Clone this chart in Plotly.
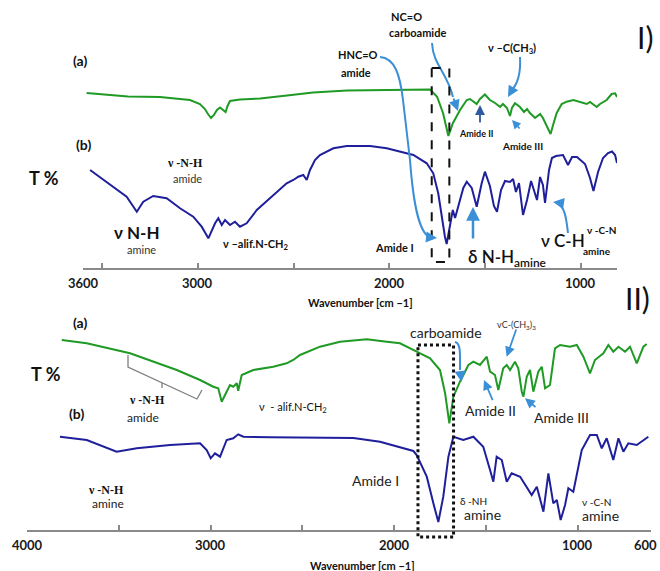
import re
import plotly.graph_objects as go

# ---------------- data (wavenumber in cm-1, transmittance in arbitrary offset units) -------------
# Panel I, spectrum (a)
wn_I_a = [3581, 3459, 3365, 3198, 3041, 2989, 2963, 2947, 2931, 2916, 2900, 2884, 2869, 2855, 2845,
          2832, 2780, 2675, 2534, 2398, 2221, 1959, 1787, 1750, 1719, 1691, 1667, 1630, 1595, 1578,
          1543, 1526, 1500, 1474, 1447, 1421, 1406, 1385, 1369, 1359, 1343, 1317, 1296, 1280, 1265,
          1238, 1212, 1197, 1170, 1157, 1144, 1125, 1099, 1073, 1038, 1003, 968, 951, 916, 899, 864,
          838, 820, 810]
T_I_a = [175, 173, 171.5, 171, 168, 164, 159, 154, 150, 153, 158, 160.5, 158, 156, 162,
         167, 168.5, 169.5, 172.5, 175.5, 177.5, 178, 178.5, 171.3, 155, 132, 145, 158, 168, 169,
         164, 169, 173.5, 168, 165, 161, 164, 160, 152, 160, 164.7, 161, 156, 159, 155,
         150, 154, 150, 138, 134, 143, 155, 164, 166.3, 168, 166, 164, 166, 161, 164, 168,
         174, 174.7, 171]

# Panel I, spectrum (b)
wn_I_b = [3563, 3442, 3372, 3319, 3285, 3233, 3163, 3093, 3024, 2980, 2945, 2910, 2893, 2875, 2858,
          2832, 2806, 2780, 2745, 2692, 2623, 2571, 2536, 2501, 2475, 2449, 2431, 2414, 2388, 2362,
          2292, 2222, 2100, 2013, 1944, 1874, 1804, 1770, 1744, 1726, 1709, 1700, 1682, 1668, 1656,
          1639, 1613, 1595, 1569, 1543, 1517, 1500, 1474, 1453, 1437, 1416, 1395, 1369, 1353, 1338,
          1322, 1301, 1280, 1259, 1244, 1228, 1212, 1197, 1186, 1165, 1150, 1129, 1092, 1066, 1045,
          1019, 977, 951, 933, 909, 883, 857, 836, 820, 810]
T_I_b = [98, 81.3, 71.3, 56.3, 66.3, 72, 69.7, 59.7, 51.3, 41.3, 29.7, 44.7, 49.7, 43, 48,
         43, 46.3, 41.3, 44.7, 58, 69.7, 78, 84.7, 88, 91.3, 93, 88, 98, 108, 113,
         119.7, 122, 122, 119.7, 116.3, 113, 104.7, 94.7, 74.7, 51.3, 31.3, 24, 44.7, 58, 50,
         63, 80, 86.3, 80, 61.3, 84.7, 96.3, 82, 62, 56.3, 78, 87, 86, 89, 76,
         85, 53, 68, 87, 78, 68, 91, 83, 65, 98, 110, 112, 113, 103, 111,
         111, 104, 90, 77, 96, 110, 115, 116.5, 113, 105]

# Panel II, spectrum (a)
wn_II_a = [3812, 3676, 3440, 3313, 3185, 3058, 2986, 2959, 2940, 2922, 2895, 2877, 2858, 2850, 2831,
           2768, 2659, 2586, 2550, 2513, 2404, 2295, 2149, 2040, 1968, 1877, 1804, 1750, 1722, 1699,
           1677, 1641, 1595, 1568, 1532, 1495, 1477, 1450, 1432, 1405, 1386, 1368, 1341, 1323, 1304,
           1295, 1277, 1259, 1241, 1214, 1195, 1177, 1150, 1123, 1095, 1041, 1004, 968, 932, 905,
           859, 832, 805, 777, 741, 714, 677, 641, 623]
T_II_a = [190, 186.7, 176.7, 168.3, 160, 150, 143.3, 141.7, 128.3, 135, 145, 143.3, 146.7, 139.3, 155,
          160, 163.3, 166.7, 170, 175, 183.3, 188.3, 190.7, 188.3, 186.7, 178.3, 171.7, 160, 136.7, 106.7,
          133.3, 148.3, 165, 168.3, 165, 173.3, 158.3, 155, 140, 161.7, 165, 160, 168.3, 161.7, 138.3,
          133.3, 153.3, 160, 138.3, 158.3, 163.3, 141.7, 145, 181.7, 185, 183.3, 185, 173.3, 156.7, 170,
          176.7, 185, 178.3, 183.3, 178.3, 183.3, 166.7, 183.3, 186]

# Panel II, spectrum (b)
wn_II_b = [3822, 3676, 3513, 3403, 3222, 3058, 3022, 3000, 2977, 2949, 2913, 2877, 2850, 2822, 2677,
           2513, 2222, 2077, 1986, 1895, 1877, 1822, 1786, 1759, 1732, 1704, 1677, 1623, 1568, 1514,
           1477, 1459, 1441, 1413, 1386, 1359, 1313, 1277, 1250, 1222, 1186, 1159, 1132, 1113, 1092,
           1068, 1050, 1023, 977, 932, 895, 868, 841, 805, 777, 750, 723, 677, 614]
T_II_b = [93.3, 90, 78.3, 81.7, 85, 86.7, 80, 71.7, 76.7, 73.3, 90, 91.7, 95.7, 93.3, 92.7,
          92.5, 92, 88.3, 83.3, 79, 75, 53.3, 26.7, 8, 33.3, 73.3, 93.3, 90, 93.3, 83.3,
          60, 48.3, 73.3, 70, 48.3, 56.7, 53.3, 43.3, 35, 43.3, 18.3, 56.7, 26.7, 30, 10,
          25, 41.7, 38.3, 80, 95, 95, 81.7, 91.7, 70, 91.7, 78.3, 86.7, 85, 93.3]

# axis ticks
ticks_I = [3500, 3000, 2500, 2000, 1500, 1000]
labels_I = [3600, 3000, 2000, 1000]
ticks_II = [3500, 3000, 2500, 2000, 1500, 1000]
labels_II = [4000, 3000, 2000, 1000, 600]

# ---------------- styling / layout helpers ----------------
W, H = 660, 571
GREEN = "#1f9a24"
BLUE = "#1f1f9c"
ARROW = "#3b8fd6"
DARKARROW = "#2e5a9e"
AX = "#8a8a8a"
SANS = "Lato, 'Open Sans', sans-serif"
SERIF = "'Liberation Serif', 'DejaVu Serif', serif"


def px(x):
    return x / W


def py(y):
    return 1 - y / H


def path(s):
    def conv(m):
        return f"{px(float(m.group(1))):.5f},{py(float(m.group(2))):.5f}"
    return re.sub(r"(-?\d+\.?\d*),(-?\d+\.?\d*)", conv, s)


def txt(x, y, s, size, weight="normal", family=SANS, color="#111111", xanchor="center"):
    return dict(x=px(x), y=py(y), xref="paper", yref="paper", text=s, showarrow=False,
                xanchor=xanchor, yanchor="middle",
                font=dict(family=family, size=size, color=color, weight=weight))


def head(x, y, ax, ay, color=ARROW, width=2):
    return dict(x=px(x), y=py(y), xref="paper", yref="paper", ax=ax, ay=ay,
                axref="pixel", ayref="pixel", text="", showarrow=True,
                arrowhead=2, arrowsize=1.1, arrowwidth=width, arrowcolor=color, standoff=0)


fig = go.Figure()
fig.add_trace(go.Scatter(x=wn_I_a, y=T_I_a, mode="lines", line=dict(color=GREEN, width=2),
                         xaxis="x", yaxis="y", hoverinfo="skip"))
fig.add_trace(go.Scatter(x=wn_I_b, y=T_I_b, mode="lines", line=dict(color=BLUE, width=2),
                         xaxis="x", yaxis="y", hoverinfo="skip"))
fig.add_trace(go.Scatter(x=wn_II_a, y=T_II_a, mode="lines", line=dict(color=GREEN, width=2),
                         xaxis="x2", yaxis="y2", hoverinfo="skip"))
fig.add_trace(go.Scatter(x=wn_II_b, y=T_II_b, mode="lines", line=dict(color=BLUE, width=2),
                         xaxis="x2", yaxis="y2", hoverinfo="skip"))

tickfont = dict(family=SANS, size=13, color="#1a1a1a", weight="bold")
common_x = dict(showline=True, linecolor=AX, linewidth=1.5, ticks="inside", ticklen=5,
                tickwidth=1.5, tickcolor=AX, showgrid=False, zeroline=False,
                showticklabels=False, fixedrange=True)

fig.update_layout(
    width=W, height=H, margin=dict(l=0, r=0, t=0, b=0),
    paper_bgcolor="white", plot_bgcolor="white", showlegend=False,
    xaxis=dict(domain=[px(83), px(617)], range=[3600, 810], anchor="y",
               tickvals=ticks_I, **common_x),
    yaxis=dict(domain=[py(268), 1], range=[0, 268], visible=False, fixedrange=True),
    xaxis2=dict(domain=[px(27.3), px(650.9)], range=[4000, 600], anchor="y2",
                tickvals=ticks_II, **common_x),
    yaxis2=dict(domain=[py(530), py(300)], range=[0, 230], visible=False, fixedrange=True),
)

ann = []
# tick labels
for v in labels_I:
    ann.append(dict(x=v, xref="x", y=py(283), yref="paper", text=str(v), showarrow=False,
                    xanchor="center", yanchor="middle", font=tickfont))
for v in labels_II:
    if v == labels_II[-1]:
        ann.append(dict(x=px(659), xref="paper", y=py(545), yref="paper", text=str(v),
                        showarrow=False, xanchor="right", yanchor="middle", font=tickfont))
    else:
        ann.append(dict(x=v, xref="x2", y=py(545), yref="paper", text=str(v), showarrow=False,
                        xanchor="center", yanchor="middle", font=tickfont))

# ---- Panel I texts
ann += [
    txt(80, 61, "(a)", 14, "bold"),
    txt(83, 144, "(b)", 14, "bold"),
    txt(44, 178, "T %", 18, "bold"),
    txt(185, 163, "ν -N-H", 12, "bold", SERIF),
    txt(187, 178, "amide", 11, "normal", color="#333333"),
    txt(137, 232, "ν N-H", 17, "bold"),
    txt(141, 249, "amine", 11, "normal", color="#333333"),
    txt(256, 244, "ν –alif.N-CH<sub>2</sub>", 11, "bold"),
    txt(394, 248, "Amide I", 11, "bold"),
    txt(466, 258, "δ N-H<sub>amine</sub>", 17, 600, xanchor="left"),
    txt(563, 240, "ν C-H", 17, 600),
    txt(601, 230, "ν -C-N", 10, "bold"),
    txt(597, 251, "amine", 10, "bold"),
    txt(358, 55, "HNC=O", 11, "bold"),
    txt(356, 72, "amide", 11, "bold"),
    txt(406, 17, "NC=O", 11, "bold"),
    txt(417, 32, "carboamide", 11, "bold"),
    txt(512, 48, "ν –C(CH<sub>3</sub>)", 11, "bold"),
    txt(476, 133, "Amide II", 9, "bold"),
    txt(522, 146, "Amide III", 10, "bold"),
    txt(655, 37, "I)", 30, "normal", xanchor="right"),
    txt(360, 302, "Wavenumber [cm −1]", 11, "bold"),
]
# ---- Panel II texts
ann += [
    txt(80, 322, "(a)", 14, "bold"),
    txt(46, 374, "T %", 18, "bold"),
    txt(76, 413, "(b)", 14, "bold"),
    txt(147, 400, "ν -N-H", 12, "bold", SERIF),
    txt(143, 417, "amide", 12, "normal", color="#222222"),
    txt(293, 407, "ν  - alif.N-CH<sub>2</sub>", 11, "normal"),
    txt(446, 332, "carboamide", 14, "normal", color="#222222"),
    txt(516, 325, "vC-(CH<sub>3</sub>)<sub>3</sub>", 9, "normal", color="#333333"),
    txt(490, 410, "Amide II", 14, "normal", color="#222222"),
    txt(561, 417, "Amide III", 14, "normal", color="#222222"),
    txt(375, 480, "Amide I", 14, "normal", color="#222222"),
    txt(473, 501, "δ -NH", 10, "normal"),
    txt(482, 514, "amine", 14, "normal", color="#222222"),
    txt(596, 502, "ν -C-N", 10, "normal"),
    txt(600, 515, "amine", 14, "normal", color="#222222"),
    txt(106, 490, "ν -N-H", 12, "bold", SERIF),
    txt(108, 503, "amine", 12, "normal", color="#222222"),
    txt(362, 565, "Wavenumber [cm −1]", 11, "bold"),
    txt(652, 298, "II)", 30, "normal", xanchor="right"),
]
# ---- arrowheads
ann += [
    head(437, 238, -10, -1),
    head(458, 111, -5, -14),
    head(508, 97, 4, -7),
    head(480, 105, 0, 19, DARKARROW, 1.8),
    head(512, 120, 9, 10, ARROW, 1.6),
    head(473, 207, 0, 33, ARROW, 2.5),
    head(553, 202, 7, 1),
    head(461.5, 382, -1.5, -12),
    head(506.7, 356.7, 10, -28.7, ARROW, 1.8),
    head(484, 380, 9.3, 21.7, ARROW, 1.8),
    head(525, 398.3, 12, 10, ARROW, 1.8),
]
fig.update_layout(annotations=ann)

shapes = [
    # curved arrow bodies (pixel-space paths converted to paper coordinates)
    dict(type="path", xref="paper", yref="paper",
         path=path("M 380,57 C 395,58 400,75 403,100 L 410,160 C 413,200 418,232 430,237.5"),
         line=dict(color=ARROW, width=2)),
    dict(type="path", xref="paper", yref="paper",
         path=path("M 432,43 C 433,65 447,72 453,97"),
         line=dict(color=ARROW, width=2)),
    dict(type="path", xref="paper", yref="paper",
         path=path("M 520,57 C 521,75 517,85 511,91"),
         line=dict(color=ARROW, width=2)),
    dict(type="path", xref="paper", yref="paper",
         path=path("M 568,233 C 566,215 564,206 557,203"),
         line=dict(color=ARROW, width=2)),
    dict(type="path", xref="paper", yref="paper",
         path=path("M 455,342 C 461,343 460,355 460,370"),
         line=dict(color=ARROW, width=2)),
    # bracket
    dict(type="path", xref="paper", yref="paper",
         path=path("M 128,355 L 128,367 L 197,399 L 202,390"),
         line=dict(color="#7f7f7f", width=1.3)),
    dict(type="path", xref="paper", yref="paper",
         path=path("M 162,383 L 162,388"),
         line=dict(color="#7f7f7f", width=1.3)),
    # highlight boxes
    dict(type="rect", xref="x", yref="paper", x0=1778, x1=1686, y0=py(68), y1=py(262),
         line=dict(color="#111111", width=2, dash="dash")),
    dict(type="rect", xref="x2", yref="paper", x0=1870, x1=1676, y0=py(345), y1=py(537),
         line=dict(color="#111111", width=3, dash="dot")),
]
fig.update_layout(shapes=shapes)

fig.write_html("out.html", config={"displayModeBar": False},
               post_script="document.body.style.margin='0';document.body.style.overflow='hidden';")
